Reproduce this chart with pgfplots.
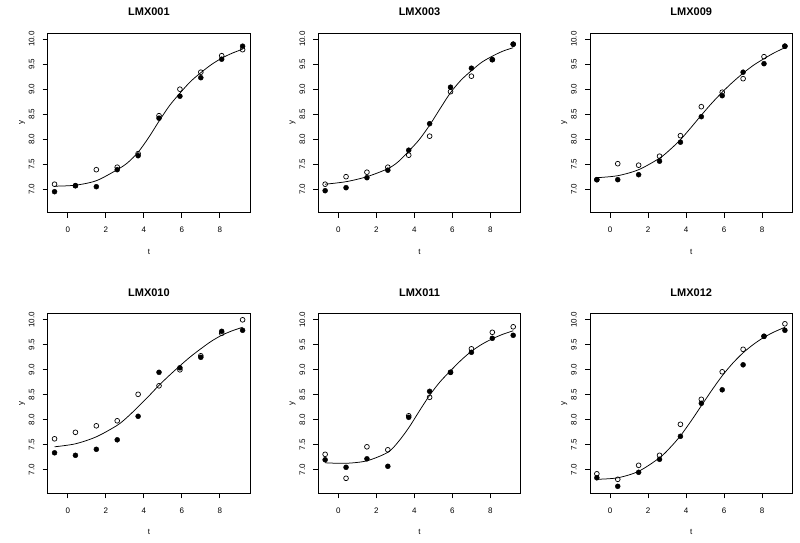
\documentclass[border=0pt]{standalone}
\usepackage{fontspec}
\setmainfont{Liberation Sans}
\usepackage{pgfplots}
\pgfplotsset{compat=1.18}
\pgfplotsset{
  panel/.style={
    scale only axis, width=202.5pt, height=179.5pt, anchor=south west,
    xmin=-1.06, xmax=9.60, ymin=6.53, ymax=10.12,
    axis line style={black, line width=0.7pt},
    tick style={black, line width=0.7pt},
    tick align=outside, tick pos=left, major tick length=5pt,
    xtick={0,2,4,6,8}, xticklabels={0,2,4,6,8},
    ytick={7,7.5,8,8.5,9,9.5,10}, yticklabels={7.0,7.5,8.0,8.5,9.0,9.5,10.0},
    /pgf/number format/assume math mode=true,
    ticklabel style={font=\fontsize{8}{9}\selectfont, inner sep=0pt},
    yticklabel style={rotate=90, anchor=south},
    xticklabel style={anchor=north},
    xticklabel shift=9.3pt, yticklabel shift=8pt,
    xlabel={t}, ylabel={y},
    label style={font=\fontsize{8}{9}\selectfont},
    xlabel style={at={(axis description cs:0.5,0)}, anchor=center, yshift=-39pt},
    ylabel style={at={(axis description cs:0,0.5)}, anchor=center, rotate=0, yshift=25.7pt},
    title style={at={(axis description cs:0.5,1)}, anchor=center, yshift=15pt, font=\bfseries\fontsize{11}{13}\selectfont},
  },
  fit/.style={black, line width=0.75pt, smooth, no marks},
  filled/.style={only marks, mark=*, mark size=2.5pt, black},
  open/.style={only marks, mark=o, mark size=2.4pt, black, mark options={line width=0.7pt}},
}
\begin{document}
\begin{tikzpicture}
\path[use as bounding box] (0,0) rectangle (800pt,543pt);
% LMX001
\begin{axis}[panel, at={(47.7pt,330.3pt)}, title={LMX001}]
\addplot[open] coordinates {(-0.7,7.10) (0.4,7.07) (1.5,7.39) (2.6,7.44) (3.7,7.71) (4.8,8.47) (5.9,9.00) (7.0,9.34) (8.1,9.67) (9.2,9.79)};
\addplot[filled] coordinates {(-0.7,6.95) (0.4,7.07) (1.5,7.05) (2.6,7.39) (3.7,7.67) (4.8,8.42) (5.9,8.86) (7.0,9.23) (8.1,9.60) (9.2,9.86)};
\addplot[fit] coordinates {(-0.7,7.06) (0.4,7.08) (1.5,7.17) (2.6,7.39) (3.15,7.53) (3.7,7.74) (4.25,8.03) (4.8,8.36) (5.35,8.67) (5.9,8.92) (6.45,9.15) (7.0,9.33) (7.55,9.49) (8.1,9.62) (8.65,9.72) (9.2,9.80)};
\end{axis}
% LMX003
\begin{axis}[panel, at={(318.3pt,330.3pt)}, title={LMX003}]
\addplot[open] coordinates {(-0.7,7.10) (0.4,7.25) (1.5,7.34) (2.6,7.44) (3.7,7.68) (4.8,8.06) (5.9,8.95) (7.0,9.26) (8.1,9.59) (9.2,9.90)};
\addplot[filled] coordinates {(-0.7,6.97) (0.4,7.03) (1.5,7.23) (2.6,7.38) (3.7,7.78) (4.8,8.31) (5.9,9.04) (7.0,9.42) (8.1,9.59) (9.2,9.90)};
\addplot[fit] coordinates {(-0.7,7.10) (0.4,7.15) (1.5,7.25) (2.6,7.41) (3.15,7.55) (3.7,7.76) (4.25,7.99) (4.8,8.28) (5.35,8.61) (5.9,8.93) (6.45,9.18) (7.0,9.37) (7.55,9.54) (8.1,9.66) (8.65,9.76) (9.2,9.83)};
\end{axis}
% LMX009
\begin{axis}[panel, at={(590pt,330.3pt)}, title={LMX009}]
\addplot[open] coordinates {(-0.7,7.19) (0.4,7.51) (1.5,7.48) (2.6,7.66) (3.7,8.07) (4.8,8.65) (5.9,8.94) (7.0,9.21) (8.1,9.65) (9.2,9.86)};
\addplot[filled] coordinates {(-0.7,7.19) (0.4,7.19) (1.5,7.29) (2.6,7.56) (3.7,7.94) (4.8,8.45) (5.9,8.87) (7.0,9.34) (8.1,9.51) (9.2,9.86)};
\addplot[fit] coordinates {(-0.7,7.23) (0.4,7.27) (1.5,7.39) (2.6,7.62) (3.15,7.79) (3.7,7.99) (4.25,8.23) (4.8,8.48) (5.35,8.72) (5.9,8.94) (6.45,9.14) (7.0,9.32) (7.55,9.48) (8.1,9.61) (8.65,9.73) (9.2,9.83)};
\end{axis}
% LMX010
\begin{axis}[panel, at={(47.7pt,49.7pt)}, title={LMX010}]
\addplot[open] coordinates {(-0.7,7.62) (0.4,7.75) (1.5,7.88) (2.6,7.98) (3.7,8.51) (4.8,8.68) (5.9,9.00) (7.0,9.28) (8.1,9.73) (9.2,10.00)};
\addplot[filled] coordinates {(-0.7,7.34) (0.4,7.29) (1.5,7.41) (2.6,7.60) (3.7,8.07) (4.8,8.95) (5.9,9.04) (7.0,9.25) (8.1,9.77) (9.2,9.79)};
\addplot[fit] coordinates {(-0.7,7.46) (0.4,7.52) (1.5,7.66) (2.6,7.89) (3.15,8.06) (3.7,8.26) (4.25,8.47) (4.8,8.69) (5.35,8.89) (5.9,9.08) (6.45,9.26) (7.0,9.42) (7.55,9.57) (8.1,9.69) (8.65,9.78) (9.2,9.85)};
\end{axis}
% LMX011
\begin{axis}[panel, at={(318.3pt,49.7pt)}, title={LMX011}]
\addplot[open] coordinates {(-0.7,7.31) (0.4,6.83) (1.5,7.46) (2.6,7.40) (3.7,8.08) (4.8,8.45) (5.9,8.95) (7.0,9.42) (8.1,9.75) (9.2,9.86)};
\addplot[filled] coordinates {(-0.7,7.20) (0.4,7.05) (1.5,7.22) (2.6,7.07) (3.7,8.05) (4.8,8.57) (5.9,8.95) (7.0,9.35) (8.1,9.63) (9.2,9.69)};
\addplot[fit] coordinates {(-0.7,7.14) (0.4,7.13) (1.5,7.18) (2.6,7.35) (3.15,7.56) (3.7,7.84) (4.25,8.17) (4.8,8.49) (5.35,8.76) (5.9,8.98) (6.45,9.19) (7.0,9.37) (7.55,9.51) (8.1,9.62) (8.65,9.71) (9.2,9.78)};
\end{axis}
% LMX012
\begin{axis}[panel, at={(590pt,49.7pt)}, title={LMX012}]
\addplot[open] coordinates {(-0.7,6.92) (0.4,6.81) (1.5,7.09) (2.6,7.29) (3.7,7.91) (4.8,8.41) (5.9,8.96) (7.0,9.41) (8.1,9.67) (9.2,9.92)};
\addplot[filled] coordinates {(-0.7,6.84) (0.4,6.67) (1.5,6.95) (2.6,7.21) (3.7,7.67) (4.8,8.33) (5.9,8.60) (7.0,9.10) (8.1,9.67) (9.2,9.79)};
\addplot[fit] coordinates {(-0.7,6.81) (0.4,6.84) (1.5,6.97) (2.6,7.24) (3.15,7.44) (3.7,7.68) (4.25,7.97) (4.8,8.28) (5.35,8.59) (5.9,8.88) (6.45,9.13) (7.0,9.34) (7.55,9.51) (8.1,9.65) (8.65,9.76) (9.2,9.85)};
\end{axis}
\end{tikzpicture}
\end{document}
